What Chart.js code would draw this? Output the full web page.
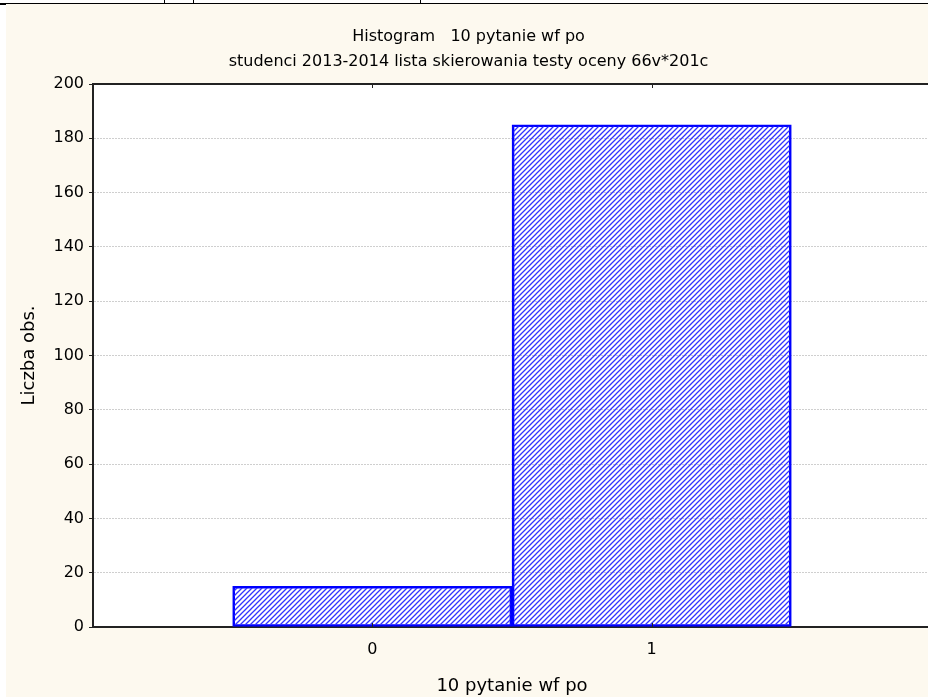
<!DOCTYPE html>
<html>
<head>
<meta charset="utf-8">
<script src="https://cdn.jsdelivr.net/npm/chart.js@4.4.1/dist/chart.umd.min.js"></script>
<style>
  html, body { margin: 0; padding: 0; background: #fff; overflow: hidden; width: 928px; height: 697px; }
  #ramka { position: absolute; left: 6px; top: 4px; width: 926px; height: 693px; background: #fdf9ef; }
  #pasek { position: absolute; left: 0; top: 3px; width: 928px; height: 1px; background: #000; }
  #rog { position: absolute; left: 0; top: 3px; width: 6px; height: 2px; background: #000; }
  .kreska { position: absolute; top: 0; width: 1px; height: 3px; background: #000; }
</style>
</head>
<body>
<div id="pasek"></div>
<div id="rog"></div>
<div class="kreska" style="left:164px"></div>
<div class="kreska" style="left:193px"></div>
<div class="kreska" style="left:420px"></div>
<div id="ramka"><canvas id="histogram"></canvas></div>

<script>
//===============================================================
// ============================ DANE ============================
//===============================================================
const kategorie = [0, 1];
const liczbaObs = [15, 185];

const tytul = [
    "Histogram   10 pytanie wf po",
    "studenci 2013-2014 lista skierowania testy oceny 66v*201c"
];
const tytulX = "10 pytanie wf po";
const tytulY = "Liczba obs.";

const osYMin = 0;
const osYMax = 200;
const osYKrok = 20;

//===============================================================
// ========================== WZOREK ============================
//===============================================================
function wzorekSkosny() {
    const s = 5;
    const c = document.createElement("canvas");
    c.width = s;
    c.height = s;
    const g = c.getContext("2d");
    g.strokeStyle = "#3333ff";
    g.lineWidth = 1.3;
    g.beginPath();
    g.moveTo(-1, s + 1);
    g.lineTo(s + 1, -1);
    g.moveTo(-1, 1);
    g.lineTo(1, -1);
    g.moveTo(s - 1, s + 1);
    g.lineTo(s + 1, s - 1);
    g.stroke();
    return document.getElementById("histogram").getContext("2d").createPattern(c, "repeat");
}

const tloWykresu = {
    id: "tloWykresu",
    beforeDraw(chart) {
        const { ctx, chartArea: a } = chart;
        ctx.save();
        ctx.fillStyle = "#ffffff";
        ctx.fillRect(a.left, a.top, a.right - a.left, a.bottom - a.top);
        ctx.restore();
    },
    afterDraw(chart) {
        const { ctx, chartArea: a, scales } = chart;
        ctx.save();
        ctx.strokeStyle = "#222";
        ctx.lineWidth = 2;
        ctx.beginPath();
        ctx.moveTo(a.left - 1, a.top);
        ctx.lineTo(a.right, a.top);
        ctx.stroke();

        // male kreski osi X do srodka
        ctx.lineWidth = 1;
        scales.x.ticks.forEach(t => {
            if (!kategorie.includes(t.value)) return;
            const x = Math.round(scales.x.getPixelForValue(t.value)) + 0.5;
            ctx.beginPath();
            ctx.moveTo(x, a.top);
            ctx.lineTo(x, a.top + 4);
            ctx.moveTo(x, a.bottom);
            ctx.lineTo(x, a.bottom - 4);
            ctx.stroke();
        });
        ctx.restore();
    }
};

//===============================================================
// ========================= WYKRES =============================
//===============================================================
const ctx = document.getElementById("histogram");

new Chart(ctx, {
    type: "bar",
    data: {
        datasets: [{
            data: kategorie.map((k, i) => ({ x: k, y: liczbaObs[i] })),
            backgroundColor: wzorekSkosny(),
            borderColor: "#0000ff",
            borderWidth: 2,
            borderSkipped: false,
            barPercentage: 1,
            categoryPercentage: 1
        }]
    },
    options: {
        responsive: true,
        maintainAspectRatio: false,
        animation: false,
        layout: { padding: { left: 0, right: 1, top: 0, bottom: 0 } },
        plugins: {
            legend: { display: false },
            tooltip: { enabled: false },
            title: {
                display: true,
                text: tytul,
                color: "#000",
                font: { family: "DejaVu Sans", size: 16, weight: "normal", lineHeight: 1.5625 },
                padding: { top: 20.5, bottom: 9.5 }
            }
        },
        scales: {
            x: {
                type: "linear",
                min: -1,
                max: 2,
                offset: false,
                afterFit: s => {
                    s.height = 70;
                    s.paddingLeft = 0;
                    s.paddingRight = 0;
                },
                grid: { display: false, drawTicks: false, offset: false },
                border: { display: true, color: "#222", width: 2 },
                ticks: {
                    stepSize: 1,
                    padding: 13,
                    color: "#000",
                    font: { family: "DejaVu Sans", size: 16 },
                    callback: v => kategorie.includes(v) ? String(v) : ""
                },
                title: {
                    display: true,
                    text: tytulX,
                    color: "#000",
                    font: { family: "DejaVu Sans", size: 18 },
                    padding: { top: 0, bottom: 0 }
                }
            },
            y: {
                min: osYMin,
                max: osYMax,
                afterFit: s => { s.width = 87; },
                grid: {
                    color: "#cfcfcf",
                    lineWidth: 1,
                    drawTicks: true,
                    tickLength: 4,
                    tickColor: "#222",
                    tickBorderDash: []
                },
                border: { display: true, color: "#222", width: 2, dash: [2, 1] },
                ticks: {
                    stepSize: osYKrok,
                    padding: 5,
                    color: "#000",
                    font: { family: "DejaVu Sans", size: 16 }
                },
                title: {
                    display: true,
                    text: tytulY,
                    color: "#000",
                    font: { family: "DejaVu Sans", size: 18 },
                    padding: { top: 13, bottom: 0 }
                }
            }
        }
    },
    plugins: [tloWykresu]
});
</script>
</body>
</html>
